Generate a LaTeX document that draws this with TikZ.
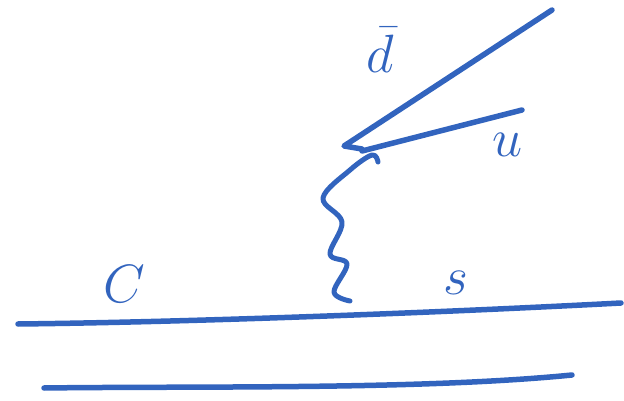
\documentclass[tikz,border=0pt]{standalone}
\usepackage{amsmath, amssymb}
\usepackage{tikz}
\definecolor{penblue}{RGB}{50,100,190}

\begin{document}
\begin{tikzpicture}[x=1pt, y=-1pt,
						stroke/.style={draw=penblue, line width=5.5pt, line cap=round, line join=round},
						thinstroke/.style={draw=penblue, line width=5pt, line cap=round, line join=round},
						handlabel/.style={text=penblue, inner sep=0pt, font=\huge, scale=2.6}
						]
						\useasboundingbox (0,0) rectangle (624,401);
						
						% Dos rectas horizontales
						\draw[stroke] (18,324) .. controls (200,322) and (450,312) .. (621,303);
						\draw[stroke] (44,388) .. controls (200,386) and (420,390) .. (572,375);
						
						% Etiquetas de las regiones
						\node[handlabel] (lblC) at (124,284) {$C$};
						\node[handlabel] (lblS) at (456,283) {$s$};
						
						% Curva ondulada
						\draw[thinstroke] plot[smooth, tension=0.6] coordinates {(378,162) (372,155) (350,170) (323,198) (342,222) (330,254) (347,264) (334,292) (350,301)};
						
						% Cuña de las dos semirrectas
						\draw[stroke] (552,10) -- (344,146) -- (362,149);
						\draw[stroke] (362,151) -- (522,110);
						
						% Etiquetas de las semirrectas
						\node[handlabel] (lblD) at (380,50) {$\bar{d}$};
						\node[handlabel] (lblU) at (508,145) {$u$};
						
					\end{tikzpicture}
\end{document}
